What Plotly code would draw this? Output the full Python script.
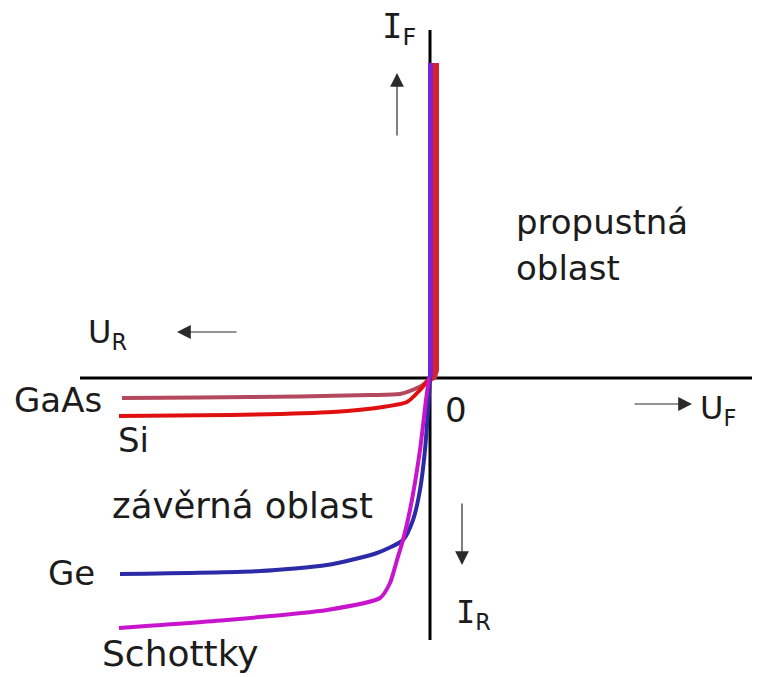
import plotly.graph_objects as go

# ---- data (voltage U in arbitrary units, current I in arbitrary units; origin = 0,0) ----
gaas_u = [-308, -230, -130, -60, -30, -13, -6, -2]
gaas_i = [-20, -19.5, -18.5, -17, -16, -10, -6, -2]

si_u = [-311, -200, -97, -47, -23, -10, -2]
si_i = [-38, -37, -34, -29, -24, -12, -2]

ge_u = [-310, -170, -103, -53, -27, -17, -10, -5, -2, 0]
ge_i = [-196, -193, -187, -175, -162, -142, -112, -72, -32, 0]

sch_u = [-311, -203, -103, -50, -40, -33, -27, -20, -10, -4, -1]
sch_i = [-250, -242, -232, -220, -205, -182, -162, -132, -72, -22, 0]

fwd_red_u = [-2, 4, 6, 6]
fwd_red_i = [-2, 1, 8, 315]
fwd_purple_u = [0, 0.5, 0.5]
fwd_purple_i = [0, 3, 315]

fig = go.Figure()

def add(u, i, color, width, shape="spline"):
    fig.add_trace(go.Scatter(x=u, y=i, mode="lines",
                             line=dict(color=color, width=width, shape=shape, smoothing=0.6),
                             hoverinfo="skip", showlegend=False))

add(fwd_red_u, fwd_red_i, "#d8232f", 6, "linear")
add(fwd_purple_u, fwd_purple_i, "#7a22d8", 5, "linear")
add(gaas_u, gaas_i, "#b4485e", 4)
add(si_u, si_i, "#e01010", 4)
add(ge_u, ge_i, "#2b2ba8", 4)
add(sch_u, sch_i, "#c814cc", 4)

# axis lines
fig.add_shape(type="line", x0=-350, x1=322, y0=0, y1=0, line=dict(color="black", width=3), layer="below")
fig.add_shape(type="line", x0=0, x1=0, y0=348, y1=-262, line=dict(color="black", width=3), layer="below")

SERIF_I = '<span style="font-family:DejaVu Sans Mono">I</span>'

def label(x, y, text, size=34):
    fig.add_annotation(x=x, y=y, text=text, showarrow=False, xanchor="left", yanchor="middle",
                       font=dict(family="DejaVu Sans", size=size, color="#1c1c1c"))

label(-50, 350, SERIF_I + "<sub>F</sub>", 34)
label(84, 156, "propustná")
label(84, 110, "oblast")
label(-344, 44, "U<sub>R</sub>", 32)
label(-418, -22, "GaAs")
label(-314, -62, "Si")
label(13, -32, "0")
label(268, -32, "U<sub>F</sub>", 32)
label(-320, -127, "závěrná oblast", 35.5)
label(24, -236, SERIF_I + "<sub>R</sub>", 32)
label(-384, -195, "Ge")
label(-330, -275, "Schottky", 36)

def arrow(x, y, ax, ay):
    fig.add_annotation(x=x, y=y, ax=ax, ay=ay, axref="x", ayref="y", xref="x", yref="y",
                       text="", showarrow=True, arrowhead=2, arrowsize=2.3, arrowwidth=1.2,
                       arrowcolor="#2a2a2a")

arrow(-33, 305, -33, 241)
arrow(-253, 46, -192, 46)
arrow(262, -26, 203, -26)
arrow(32, -187, 32, -124)

fig.update_xaxes(range=[-430, 330], visible=False, fixedrange=True)
fig.update_yaxes(range=[-299, 378], visible=False, fixedrange=True)
fig.update_layout(width=760, height=677, margin=dict(l=0, r=0, t=0, b=0),
                  plot_bgcolor="white", paper_bgcolor="white", showlegend=False)

fig.write_html("out.html", config={"displayModeBar": False},
               post_script="document.body.style.margin='0';")
